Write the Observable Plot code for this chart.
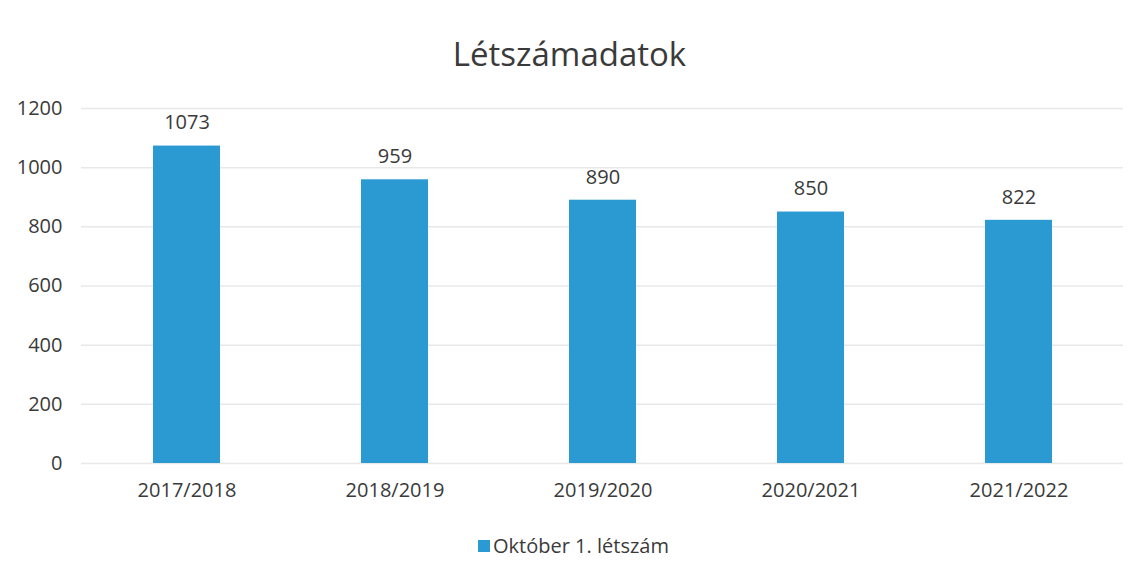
<!DOCTYPE html>
<html>
<head>
<meta charset="utf-8">
<script src="https://cdn.jsdelivr.net/npm/d3@7"></script>
<script src="https://cdn.jsdelivr.net/npm/@observablehq/plot@0.6"></script>
<style>
  body { margin: 0; background: #fff; font-family: "Open Sans", "Noto Sans", sans-serif; color: #3a3a3a; }
  #wrap { width: 1139px; height: 573px; position: relative; }
  #title { height: 90px; line-height: 1; text-align: center; font-size: 33px; box-sizing: border-box; }
  #title span { position: relative; top: 37px; }
  #legend { text-align: center; font-size: 20px; margin-top: 12px; padding-left: 8px; }
  #legend .sw { display: inline-block; width: 12px; height: 12px; background: #2b9ad3; margin-right: 3px; vertical-align: 1px; }
</style>
</head>
<body>
<div id="wrap">
  <div id="title"><span>Létszámadatok</span></div>
  <div id="chart"></div>
  <div id="legend"><span class="sw"></span>Október 1. létszám</div>
</div>
<script>
const years = ["2017/2018", "2018/2019", "2019/2020", "2020/2021", "2021/2022"];
const counts = [1073, 959, 890, 850, 822];
const yTicks = [0, 200, 400, 600, 800, 1000, 1200];
const seriesName = "Október 1. létszám";

const data = years.map((y, i) => ({year: y, value: counts[i]}));

const chart = Plot.plot({
  width: 1139,
  height: 430,
  marginTop: 18,
  marginBottom: 57,
  marginLeft: 81,
  marginRight: 16,
  style: {fontFamily: "'Open Sans', 'Noto Sans', sans-serif", fontSize: "20px", color: "#3a3a3a", background: "#fff"},
  x: {domain: years, paddingInner: 0.68, paddingOuter: 0.34, label: null, tickSize: 0, tickPadding: 19},
  y: {domain: [0, 1200], ticks: yTicks, tickFormat: d => String(d), label: null, tickSize: 0, tickPadding: 19},
  marks: [
    Plot.gridY(yTicks, {stroke: "#e8e8e8", strokeOpacity: 1, strokeWidth: 1.5}),
    Plot.barY(data, {x: "year", y: "value", fill: "#2b9ad3"}),
    Plot.text(data, {x: "year", y: "value", text: d => String(d.value), dy: -23, fill: "#3a3a3a", fontSize: 20})
  ]
});
document.getElementById("chart").appendChild(chart);
</script>
</body>
</html>
